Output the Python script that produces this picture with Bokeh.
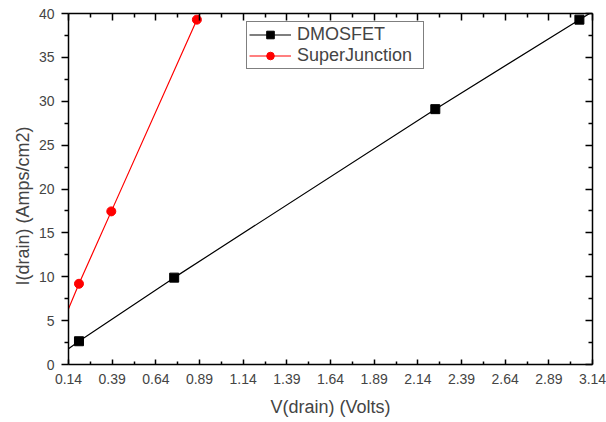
from bokeh.plotting import figure
from bokeh.models import (Range1d, FixedTicker, LinearAxis, Legend, LegendItem,
                          CustomLabelingPolicy, Title)
from bokeh.embed import file_html
from bokeh.resources import INLINE

# ---- data ----
x_ticks = [0.14, 0.39, 0.64, 0.89, 1.14, 1.39, 1.64, 1.89, 2.14, 2.39, 2.64, 2.89, 3.14]
y_ticks = [0, 5, 10, 15, 20, 25, 30, 35, 40]

dmos_v = [0.20, 0.745, 2.24, 3.065]
dmos_i = [2.65, 9.9, 29.1, 39.3]
dmos_line_v = [0.14, 0.20, 0.745, 2.24, 3.065, 3.14]
dmos_line_i = [1.8, 2.65, 9.9, 29.1, 39.3, 40.2]

sj_v = [0.20, 0.385, 0.875]
sj_i = [9.2, 17.45, 39.3]
sj_line_v = [0.14, 0.20, 0.385, 0.875, 0.893]
sj_line_i = [6.35, 9.2, 17.45, 39.3, 40.0]

FONT = "Liberation Sans"

x_minor = [(a + b) / 2 for a, b in zip(x_ticks[:-1], x_ticks[1:])]
y_minor = [(a + b) / 2 for a, b in zip(y_ticks[:-1], y_ticks[1:])]

p = figure(width=606, height=422, output_backend="svg", toolbar_location=None,
           x_range=Range1d(x_ticks[0], x_ticks[-1]), y_range=Range1d(y_ticks[0], y_ticks[-1]),
           min_border_left=68, min_border_right=14, min_border_top=13, min_border_bottom=58)
p.xgrid.grid_line_color = None
p.ygrid.grid_line_color = None
p.outline_line_color = None
p.background_fill_color = "white"
p.border_fill_color = "white"

xt = FixedTicker(ticks=x_ticks, minor_ticks=x_minor)
yt = FixedTicker(ticks=y_ticks, minor_ticks=y_minor)

# bottom axis
xa = p.xaxis[0]
xa.ticker = xt
xa.axis_label = "V(drain) (Volts)"
xa.axis_label_text_font = FONT
xa.axis_label_text_font_size = "18px"
xa.axis_label_text_font_style = "normal"
xa.axis_label_standoff = 10
xa.major_label_text_font = FONT
xa.major_label_text_font_size = "14px"
xa.major_label_standoff = 9
xa.major_tick_in = 5
xa.major_tick_out = 0
xa.minor_tick_in = 3
xa.minor_tick_out = 0
xa.axis_line_width = 1.5
xa.major_tick_line_width = 1.5
xa.minor_tick_line_width = 1.5

# left axis
ya = p.yaxis[0]
ya.ticker = yt
ya.major_label_text_font = FONT
ya.major_label_text_font_size = "14px"
ya.major_label_standoff = 7
ya.major_tick_in = 0
ya.major_tick_out = 7
ya.minor_tick_in = 0
ya.minor_tick_out = 4
ya.axis_line_width = 1.5
ya.major_tick_line_width = 1.5
ya.minor_tick_line_width = 1.5

# y axis title (placed as a side title so it can sit slightly below centre)
ytitle = Title(text="I(drain) (Amps/cm2)", align="left", offset=79, standoff=6,
               text_font=FONT, text_font_size="18px", text_font_style="normal")
p.add_layout(ytitle, "left")

# top and right axes (ticks only, no labels)
hide_all = CustomLabelingPolicy(code="""
const idx = Array.from(indices)
for (const i of idx) { if (indices.unset) indices.unset(i); else indices.set(i, false) }
return indices
""")
for loc, tk in (("above", xt), ("right", yt)):
    ax = LinearAxis(ticker=tk, major_label_policy=hide_all)
    ax.major_label_text_font_size = "1px"
    ax.major_label_standoff = 0
    ax.major_tick_in = 7
    ax.major_tick_out = 0
    ax.minor_tick_in = 4
    ax.minor_tick_out = 0
    ax.axis_line_width = 1.5
    ax.major_tick_line_width = 1.5
    ax.minor_tick_line_width = 1.5
    p.add_layout(ax, loc)

# series
l1 = p.line(dmos_line_v, dmos_line_i, line_color="black", line_width=1.2)
s1 = p.scatter(dmos_v, dmos_i, marker="square", size=9, fill_color="black", line_color="black")
l2 = p.line(sj_line_v, sj_line_i, line_color="#ff0000", line_width=1.2)
s2 = p.scatter(sj_v, sj_i, marker="circle", size=9, fill_color="#ff0000", line_color="#ff0000")

legend = Legend(items=[LegendItem(label="DMOSFET", renderers=[l1, s1]),
                       LegendItem(label="SuperJunction", renderers=[l2, s2])],
                location=(178, 295), orientation="vertical")
legend.label_text_font = FONT
legend.label_text_font_size = "18px"
legend.label_height = 19
legend.label_width = 124
legend.glyph_height = 19
legend.glyph_width = 42
legend.label_standoff = 6
legend.padding = 2
legend.spacing = 0
legend.margin = 0
legend.border_line_color = "black"
legend.border_line_width = 1
legend.background_fill_alpha = 1.0
p.add_layout(legend, "center")

open("out.html", "w").write(file_html(p, INLINE))
